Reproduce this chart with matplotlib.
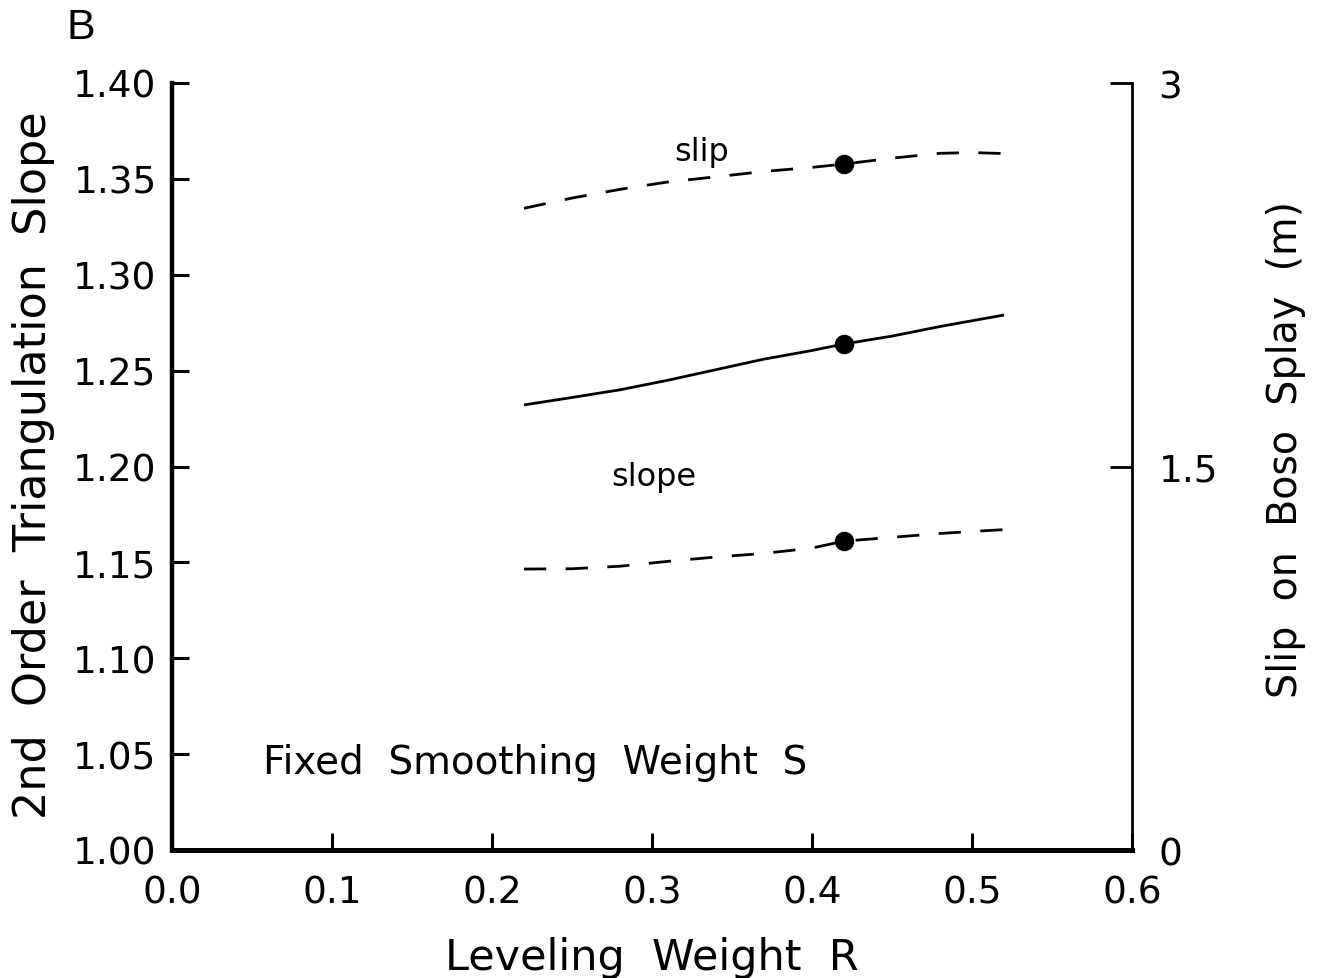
import matplotlib
matplotlib.use("Agg")
import matplotlib.pyplot as plt

# leveling weight R (sampled along the curves)
weight_r = [0.22, 0.25, 0.28, 0.31, 0.34, 0.37, 0.40, 0.42, 0.45, 0.48, 0.50, 0.52]

# 2nd order triangulation slope (left axis)
slope = [1.2321, 1.2360, 1.2400, 1.2450, 1.2505, 1.2560, 1.2605, 1.2639,
         1.2680, 1.2730, 1.2760, 1.2790]

# slip on Boso splay in metres (right axis)
slip_upper = [2.510, 2.550, 2.584, 2.613, 2.633, 2.654, 2.670, 2.683,
              2.706, 2.725, 2.728, 2.724]
slip_lower = [1.099, 1.100, 1.110, 1.129, 1.146, 1.160, 1.181, 1.208,
              1.223, 1.238, 1.246, 1.253]

# chosen value
best_r = [0.42]
best_slope = [1.2639]
best_slip_upper = [2.683]
best_slip_lower = [1.208]

left_ticks = [1.00, 1.05, 1.10, 1.15, 1.20, 1.25, 1.30, 1.35, 1.40]
right_ticks = [0, 1.5, 3]
right_ticklabels = ["0", "1.5", "3"]
x_ticks = [0.0, 0.1, 0.2, 0.3, 0.4, 0.5, 0.6]

W, H = 1317, 979
fig = plt.figure(figsize=(W / 100, H / 100), dpi=100)
ax = fig.add_axes([172 / W, 1 - 851 / H, (1132 - 172) / W, (851 - 84) / H])
ax2 = ax.twinx()

ax.plot(weight_r, slope, color="black", lw=2.0, solid_capstyle="butt")
ax.plot(best_r, best_slope, "o", color="black", ms=13)

ax2.plot(weight_r, slip_upper, color="black", lw=2.0, dashes=(8, 7))
ax2.plot(weight_r, slip_lower, color="black", lw=2.0, dashes=(8, 7))
ax2.plot(best_r, best_slip_upper, "o", color="black", ms=13)
ax2.plot(best_r, best_slip_lower, "o", color="black", ms=13)

ax.set_xlim(0.0, 0.6)
ax.set_ylim(1.00, 1.40)
ax2.set_ylim(0, 3)

ax.set_xticks(x_ticks)
ax.set_xticklabels(["%.1f" % v for v in x_ticks])
ax.set_yticks(left_ticks)
ax.set_yticklabels(["%.2f" % v for v in left_ticks])
ax2.set_yticks(right_ticks)
ax2.set_yticklabels(right_ticklabels)

for s in ["top", "right"]:
    ax.spines[s].set_visible(False)
for s in ["top", "left", "bottom"]:
    ax2.spines[s].set_visible(False)
ax.spines["left"].set_linewidth(3.2)
ax.spines["bottom"].set_linewidth(3.6)
ax2.spines["right"].set_linewidth(2.0)

ax.tick_params(axis="x", direction="in", length=12, width=2.2, labelsize=27, pad=18)
ax.tick_params(axis="y", direction="in", length=12, width=2.2, labelsize=27, pad=11)
ax2.tick_params(axis="y", direction="in", length=16, width=2.0, labelsize=27, pad=19)

# in-plot labels
ax.text(0.331, 1.3645, "slip", fontsize=23, ha="center", va="center")
ax.text(0.301, 1.195, "slope", fontsize=23, ha="center", va="center")
ax.text(0.057, 1.0459, "Fixed  Smoothing  Weight  S", fontsize=28,
        ha="left", va="center")

# axis titles
fig.text(652 / W, 1 - 970 / H, "Leveling  Weight  R", fontsize=31,
         ha="center", va="baseline")
fig.text(46 / W, 1 - 465 / H, "2nd  Order  Triangulation  Slope", fontsize=32,
         rotation=90, rotation_mode="anchor", ha="center", va="baseline")
fig.text(1297 / W, 1 - 450 / H, "Slip  on  Boso  Splay  (m)", fontsize=28.5,
         rotation=90, rotation_mode="anchor", ha="center", va="baseline")

fig.text(66 / W, 1 - 28 / H, "B", fontsize=31, family="Liberation Sans",
         ha="left", va="center")

fig.savefig("out.png", dpi=100)
